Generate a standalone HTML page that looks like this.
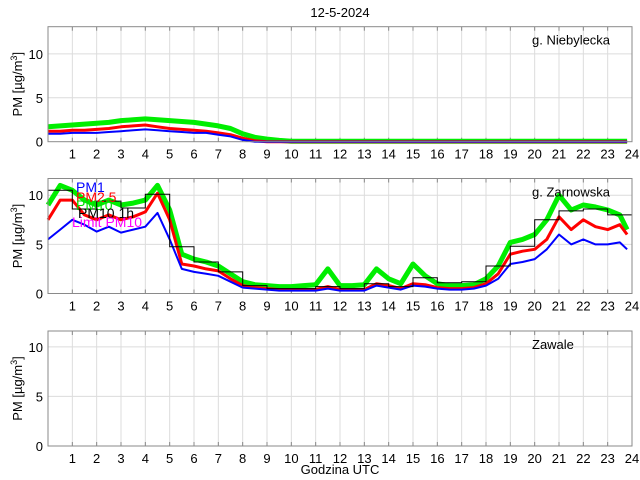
<!DOCTYPE html>
<html><head><meta charset="utf-8"><style>
body{margin:0;background:#fff;}
svg{display:block;font-family:"Liberation Sans",sans-serif;}
</style></head><body>
<svg id="chart" width="640" height="480" viewBox="0 0 640 480" xmlns="http://www.w3.org/2000/svg">
<rect width="640" height="480" fill="#fff"/>
<text x="340" y="17" font-size="13" text-anchor="middle">12-5-2024</text>
<text x="340" y="474" font-size="13" text-anchor="middle">Godzina UTC</text>
<g id="plots"></g>
</svg>
<script>
// half-hour sample times (hours)
const times = [0,0.5,1,1.5,2,2.5,3,3.5,4,4.5,5,5.5,6,6.5,7,7.5,8,8.5,9,9.5,10,10.5,11,11.5,12,12.5,13,13.5,14,14.5,15,15.5,16,16.5,17,17.5,18,18.5,19,19.5,20,20.5,21,21.5,22,22.5,23,23.5,23.8];
// Panel 1: g. Niebylecka
const nieb_pm1 = [0.9,0.9,1.0,1.0,1.0,1.1,1.2,1.3,1.4,1.3,1.2,1.1,1.0,1.0,0.8,0.6,0.2,0,0,0,0,0,0,0,0,0,0,0,0,0,0,0,0,0,0,0,0,0,0,0,0,0,0,0,0,0,0,0,0];
const nieb_pm25 = [1.2,1.2,1.3,1.3,1.4,1.5,1.7,1.8,1.9,1.7,1.5,1.4,1.3,1.2,1.0,0.8,0.4,0.1,0,0,0,0,0,0,0,0,0,0,0,0,0,0,0,0,0,0,0,0,0,0,0,0,0,0,0,0,0,0,0];
const nieb_pm10 = [1.7,1.8,1.9,2.0,2.1,2.2,2.4,2.5,2.6,2.5,2.4,2.3,2.2,2.0,1.8,1.5,0.9,0.5,0.3,0.15,0.05,0.05,0.05,0.05,0.05,0.05,0.05,0.05,0.05,0.05,0.05,0.05,0.05,0.05,0.05,0.05,0.05,0.05,0.05,0.05,0.05,0.05,0.05,0.05,0.05,0.05,0.05,0.05,0.05];
// Panel 2: g. Zarnowska
const zarn_pm1 = [5.5,6.5,7.5,7.0,6.3,6.8,6.2,6.5,6.8,8.2,5.5,2.5,2.2,2.0,1.8,1.2,0.6,0.5,0.4,0.3,0.3,0.3,0.3,0.5,0.3,0.3,0.3,0.8,0.6,0.4,0.8,0.7,0.5,0.4,0.4,0.5,0.8,1.5,3.0,3.2,3.5,4.5,6.0,5.0,5.5,5.0,5.0,5.2,4.5];
const zarn_pm25 = [7.5,9.5,9.5,8.0,7.5,8.0,7.5,7.8,8.3,10.2,7.5,3.0,2.8,2.5,2.3,1.5,0.8,0.6,0.5,0.4,0.4,0.4,0.4,0.7,0.4,0.4,0.4,1.0,0.8,0.5,1.0,0.9,0.6,0.5,0.5,0.6,1.0,2.0,4.0,4.3,4.5,5.5,7.8,6.5,7.5,6.8,6.5,7.0,6.0];
const zarn_pm10 = [9.0,11.0,10.5,9.5,9.0,9.5,9.0,9.2,9.5,11.0,8.5,4.0,3.5,3.2,2.8,2.0,1.2,0.9,0.8,0.7,0.7,0.8,0.9,2.5,0.8,0.8,0.9,2.5,1.5,1.0,3.0,1.8,1.0,0.8,0.8,0.9,1.5,2.8,5.2,5.5,6.0,7.5,10.0,8.5,9.0,8.8,8.5,8.0,6.5];
const zarn_pm10_1h = [10.5,8.6,9.4,8.7,10.1,4.75,3.2,2.2,0.8,0.5,0.5,0.7,0.5,1.0,0.7,1.6,1.1,1.2,2.8,4.8,7.5,8.4,8.6,8.0];
// panel meta
const panelNames = ["g. Niebylecka","g. Zarnowska","Zawale"];
const yMaxes = [13.1,11.7,11.6];
const yTicks = [0,5,10];
const xTicks = [1,2,3,4,5,6,7,8,9,10,11,12,13,14,15,16,17,18,19,20,21,22,23,24];
const legendLabels = ["PM1","PM2.5","PM10","PM10 1h","Limit PM10"];

const NS="http://www.w3.org/2000/svg";
const plots=document.getElementById('plots');
const L=48,R=632,H=115;
const tops=[26.7,178.5,331];
function xs(h){return L+(R-L)*h/24;}
function mk(tag,attrs,parent){const e=document.createElementNS(NS,tag);for(const k in attrs)e.setAttribute(k,attrs[k]);(parent||plots).appendChild(e);return e;}

function drawPanel(i,series){
  const top=tops[i],bot=top+H,ymax=yMaxes[i];
  const ys=v=>bot-H*v/ymax;
  const g=mk('g',{});
  
  
  xTicks.forEach(t=>{
    const l=mk('line',{x1:xs(t),x2:xs(t),y1:top,y2:bot,stroke:'#dcdcdc','stroke-width':1},g);
    
    
    const tx=mk('text',{x:xs(t),y:bot+17,'font-size':13,'text-anchor':'middle'},g);
    tx.textContent=t;
    
    
    mk('line',{x1:xs(t),x2:xs(t),y1:top,y2:top+4,stroke:'#888'},g);
    mk('line',{x1:xs(t),x2:xs(t),y1:bot,y2:bot-4,stroke:'#888'},g);
  });
  yTicks.forEach(t=>{
    const y=ys(t);
    if(t>0){const l=mk('line',{x1:L,x2:R,y1:y,y2:y,stroke:'#dcdcdc'},g);
      
      }
    const tx=mk('text',{x:L-5,y:y+5,'font-size':13,'text-anchor':'end'},g);
    tx.textContent=t;
    
    
  });
  const yl=mk('text',{x:0,y:0,'font-size':13,'text-anchor':'middle',transform:`translate(22,${top+H/2}) rotate(-90)`},g);
  yl.innerHTML='PM [µg/m<tspan dy="-5" font-size="9">3</tspan><tspan dy="5">]</tspan>';
  
  
  series.forEach(s=>{
    const d=s.vals.map((v,k)=>(k?'L':'M')+xs(times[k]).toFixed(1)+','+ys(v).toFixed(1)).join('');
    const p=mk('path',{d:d,fill:'none',stroke:s.color,'stroke-width':s.w,'stroke-linejoin':'round'},g);
    
    
  });
  if(i===1){
    let d='';
    zarn_pm10_1h.forEach((v,h)=>{d+=(h?'L':'M')+xs(h).toFixed(1)+','+ys(v).toFixed(1)+'L'+xs(h+1).toFixed(1)+','+ys(v).toFixed(1);});
    const p=mk('path',{d:d,fill:'none',stroke:'#000','stroke-width':1},g);
    
    
    const cols=['#0000ff','#ff0000','#00dd00','#000','#ff00ff'];
    const ly=[192,202,210,218,227];
    legendLabels.forEach((lab,k)=>{
      const t=mk('text',{x:k===3?78:(k===4?72:76),y:ly[k],'font-size':14,fill:cols[k]},g);
      t.textContent=lab;
      
      
    });
  }
  mk('rect',{x:L,y:top,width:R-L,height:H,fill:'none',stroke:'#8a8a8a','stroke-width':1},g);
  const nm=mk('text',{x:532,y:top+18,'font-size':13},g);
  nm.textContent=panelNames[i];
  
  
}
drawPanel(0,[
 {vals:nieb_pm10,color:'#00ee00',w:5,name:'pm10-line'},
 {vals:nieb_pm25,color:'#ff0000',w:3,name:'pm25-line'},
 {vals:nieb_pm1,color:'#0000ff',w:2,name:'pm1-line'}]);
drawPanel(1,[
 {vals:zarn_pm10,color:'#00ee00',w:5,name:'pm10-line'},
 {vals:zarn_pm25,color:'#ff0000',w:3,name:'pm25-line'},
 {vals:zarn_pm1,color:'#0000ff',w:2,name:'pm1-line'}]);
drawPanel(2,[]);
</script>
</body></html>
